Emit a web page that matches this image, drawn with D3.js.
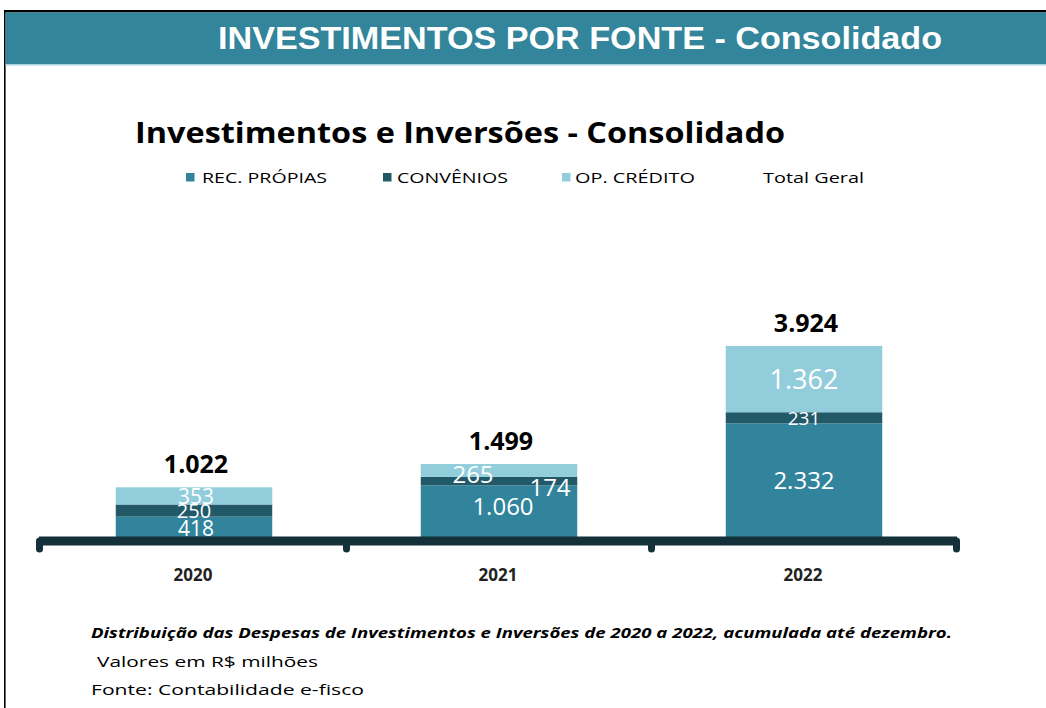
<!DOCTYPE html>
<html>
<head>
<meta charset="utf-8">
<script src="https://cdn.jsdelivr.net/npm/d3@7"></script>
<style>
  html, body { margin: 0; padding: 0; background: #fff; }
  svg { display: block; }
</style>
</head>
<body>
<svg id="chart" width="1046" height="708"></svg>
<script>
// ---- data ----
const categories = ["2020", "2021", "2022"];
const seriesNames = ["REC. PRÓPIAS", "CONVÊNIOS", "OP. CRÉDITO"];
const recPropias = [418, 1060, 2332];
const convenios = [250, 174, 231];
const opCredito = [353, 265, 1362];
const totalGeral = [1022, 1499, 3924];

const colors = ["#31849B", "#215968", "#92CDDC"];
const fmt = v => d3.format(",")(v).replace(/,/g, ".");

const svg = d3.select("#chart");
const W = 1046, H = 708;

// frame + header
svg.append("rect").attr("x", 4).attr("y", 10).attr("width", 1.6).attr("height", H - 10).attr("fill", "#000");
svg.append("rect").attr("x", 4).attr("y", 10).attr("width", W - 4).attr("height", 2.5).attr("fill", "#000");
svg.append("rect").attr("x", 5.5).attr("y", 12.5).attr("width", W - 5.5).attr("height", 52).attr("fill", "#32859A");
svg.append("rect").attr("x", 5.5).attr("y", 64).attr("width", W - 5.5).attr("height", 1.5).attr("fill", "#A9D4E1");
svg.append("text").attr("x", 218).attr("y", 49)
  .attr("font-family", "Liberation Sans, Arial, sans-serif").attr("font-weight", "bold")
  .attr("font-size", 32).attr("fill", "#fff")
  .attr("textLength", 724).attr("lengthAdjust", "spacingAndGlyphs")
  .text("INVESTIMENTOS POR FONTE - Consolidado");

// chart title
svg.append("text").attr("x", 135).attr("y", 143)
  .attr("font-family", "Open Sans, sans-serif").attr("font-weight", "bold")
  .attr("font-size", 28).attr("fill", "#000")
  .attr("textLength", 650).attr("lengthAdjust", "spacingAndGlyphs")
  .text("Investimentos e Inversões - Consolidado");

// legend
const legendItems = [
  { name: seriesNames[0], color: colors[0], sx: 186, tx: 202, tw: 125 },
  { name: seriesNames[1], color: colors[1], sx: 383, tx: 397, tw: 111 },
  { name: seriesNames[2], color: colors[2], sx: 562, tx: 575, tw: 120 },
  { name: "Total Geral", color: null, sx: null, tx: 763, tw: 101 }
];
const lg = svg.append("g");
legendItems.forEach(it => {
  if (it.color) lg.append("rect").attr("x", it.sx).attr("y", 173).attr("width", 8.5).attr("height", 8.5).attr("fill", it.color);
  lg.append("text").attr("x", it.tx).attr("y", 183)
    .attr("font-family", "Open Sans, sans-serif").attr("font-size", 15).attr("fill", "#000")
    .attr("textLength", it.tw).attr("lengthAdjust", "spacingAndGlyphs")
    .text(it.name);
});

// scales
const x = d3.scaleBand().domain(categories).range([41.5, 956.5]).paddingInner(0.487).paddingOuter(0.2435);
const y = d3.scaleLinear().domain([0, 3924]).range([537, 346]);

const rows = categories.map((c, i) => ({ cat: c, vals: [recPropias[i], convenios[i], opCredito[i]], total: totalGeral[i] }));
const stacked = d3.stack().keys([0, 1, 2]).value((d, k) => d.vals[k])(rows);

const barsG = svg.append("g");
stacked.forEach((layer, k) => {
  barsG.selectAll(null).data(layer).enter().append("rect")
    .attr("x", d => x(d.data.cat))
    .attr("width", x.bandwidth())
    .attr("y", d => y(d[1]))
    .attr("height", d => y(d[0]) - y(d[1]))
    .attr("fill", colors[k]);
});

// axis
const axisY = 541;
const tickXs = [39.5].concat(categories.map(c => x(c) + x.bandwidth() / 2 + x.step() / 2));
svg.append("line").attr("x1", 39).attr("x2", 957).attr("y1", axisY).attr("y2", axisY)
  .attr("stroke", "#14313A").attr("stroke-width", 9);
tickXs.forEach(tx => {
  svg.append("line").attr("x1", tx).attr("x2", tx).attr("y1", axisY).attr("y2", 549)
    .attr("stroke", "#14313A").attr("stroke-width", 7).attr("stroke-linecap", "round");
});

// category labels
svg.append("g").selectAll(null).data(categories).enter().append("text")
  .attr("x", d => x(d) + x.bandwidth() / 2 - 1)
  .attr("y", 581)
  .attr("text-anchor", "middle")
  .attr("font-family", "Open Sans, sans-serif").attr("font-weight", "bold")
  .attr("font-size", 17).attr("fill", "#222")
  .text(d => d);

// segment labels (manual nudges where the original labels were moved)
const nudge = { "2021-2": [-26, 4], "2021-1": [51, 6], "2021-0": [4, -5], "2020-0": [2, 2], "2020-2": [2, 1] };
const segSize = { "2022-2": 27, "2022-1": 19, "2020-0": 21, "2020-1": 20, "2020-2": 21 };
const labG = svg.append("g");
stacked.forEach((layer, k) => {
  layer.forEach(d => {
    const key = d.data.cat + "-" + k;
    const n = nudge[key] || [0, 0];
    labG.append("text")
      .attr("x", x(d.data.cat) + x.bandwidth() / 2 + n[0])
      .attr("y", (y(d[0]) + y(d[1])) / 2 + n[1])
      .attr("dy", "0.36em")
      .attr("text-anchor", "middle")
      .attr("font-family", "Open Sans, sans-serif")
      .attr("font-size", segSize[key] || 24)
      .attr("fill", "#fff")
      .text(fmt(d.data.vals[k]));
  });
});

// totals
svg.append("g").selectAll(null).data(rows).enter().append("text")
  .attr("x", d => x(d.cat) + x.bandwidth() / 2 + 2)
  .attr("y", d => y(d.total) - 23)
  .attr("dy", "0.36em")
  .attr("text-anchor", "middle")
  .attr("font-family", "Open Sans, sans-serif").attr("font-weight", "bold")
  .attr("font-size", 25).attr("fill", "#000")
  .text(d => fmt(d.total));

// footnotes
svg.append("text").attr("x", 91).attr("y", 638)
  .attr("font-family", "Open Sans, sans-serif").attr("font-weight", "bold").attr("font-style", "italic")
  .attr("font-size", 15).attr("fill", "#000")
  .attr("textLength", 861).attr("lengthAdjust", "spacingAndGlyphs")
  .text("Distribuição das Despesas de Investimentos e Inversões de 2020 a 2022, acumulada até dezembro.");
svg.append("text").attr("x", 97).attr("y", 667)
  .attr("font-family", "Open Sans, sans-serif").attr("font-size", 15).attr("fill", "#000")
  .attr("textLength", 221).attr("lengthAdjust", "spacingAndGlyphs")
  .text("Valores em R$ milhões");
svg.append("text").attr("x", 91).attr("y", 695)
  .attr("font-family", "Open Sans, sans-serif").attr("font-size", 15).attr("fill", "#000")
  .attr("textLength", 273).attr("lengthAdjust", "spacingAndGlyphs")
  .text("Fonte: Contabilidade e-fisco");
</script>
</body>
</html>
